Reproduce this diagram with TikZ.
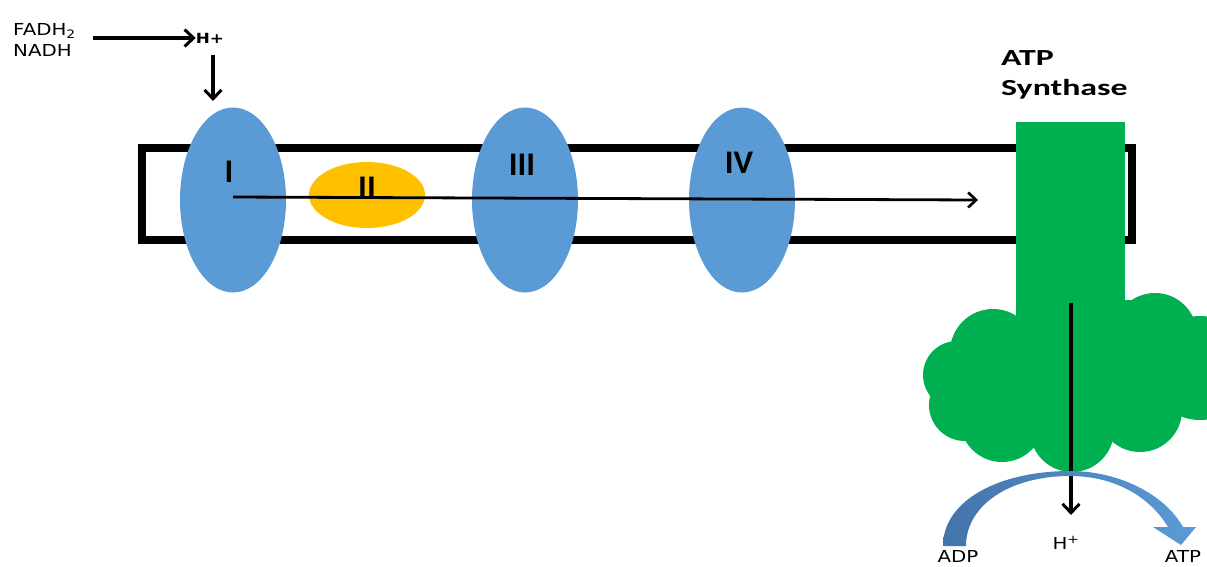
\documentclass[tikz,border=0pt]{standalone}
\usepackage{fontspec}
\usetikzlibrary{arrows.meta,shapes.geometric}
\newfontfamily\calfont{Carlito}
\newfontfamily\calwide[FakeStretch=1.47]{Carlito}
\newfontfamily\labfont[FakeStretch=1.2]{DejaVu Sans}
\definecolor{cplxblue}{HTML}{5B9BD5}
\definecolor{cplxgold}{HTML}{FFC000}
\definecolor{synthgreen}{HTML}{00B050}
\definecolor{arcdark}{HTML}{4374AA}
\tikzset{
  cplx/.style={ellipse, fill=cplxblue, minimum width=106pt, minimum height=185pt, inner sep=0pt},
  numeral/.style={font=\calfont\bfseries\fontsize{33}{33}\selectfont, inner sep=0pt},
  small/.style={font=\labfont\fontsize{16.5}{16.5}\selectfont, inner sep=0pt},
  flow/.style={line width=3.2pt, -{Straight Barb[length=9pt,width=17pt,line width=3pt]}},
  thinflow/.style={line width=2.8pt, -{Straight Barb[length=8pt,width=15pt,line width=2.6pt]}},
  synth/.style={fill=synthgreen}
}
\begin{document}
\begin{tikzpicture}[x=1pt,y=-1pt]
\useasboundingbox (0,0) rectangle (1207,566);

% inner membrane
\draw[line width=8pt] (142,147.5) rectangle (1132,239.5);

% respiratory complexes
\node[cplx] (c1) at (233,200) {};
\node[cplx] (c3) at (525,200) {};
\node[cplx] (c4) at (742,200) {};
\node[ellipse, fill=cplxgold, minimum width=116pt, minimum height=66pt, inner sep=0pt] (c2) at (367,195) {};
\node[numeral] (l1) at (229,172) {I};
\node[numeral] (l2) at (367,188) {II};
\node[numeral] (l3) at (522,165) {III};
\node[numeral] (l4) at (739,163) {IV};

% electron path along the membrane
\coordinate (eend) at (978,200);
\draw[thinflow] ([yshift=3pt]c1.center) -- (eend);

% ATP synthase: stalk through the membrane and head below it
\fill[synth] (1016,122) rectangle (1125,345);
\fill[synth] (993,352) circle (43);
\fill[synth] (957,375) circle (34);
\fill[synth] (965,405) circle (36);
\fill[synth] (1002,420) circle (42);
\fill[synth] (1072,430) circle (42);
\fill[synth] (1140,410) circle (42);
\fill[synth] (1200,368) circle (52);
\fill[synth] (1155,335) circle (42);
\fill[synth] (1065,380) circle (62);
\fill[synth] (990,330) rectangle (1175,425);
\fill[synth] (1110,300) -- (1140,300) -- (1150,340) -- (1110,340) -- cycle;

\node[font=\calwide\bfseries\fontsize{23}{30}\selectfont, align=left, anchor=north west, inner sep=0pt] (synlab) at (1001,50) {ATP\\Synthase};

% proton flow through the synthase
\coordinate (pin) at (1071,303);
\coordinate (pout) at (1071,515);
\draw[flow] (pin) -- (pout);

% ADP to ATP curved arrow
\shade[left color=arcdark, right color=cplxblue]
  (943,546) .. controls (943,500) and (1000,471) .. (1070,471)
  .. controls (1120,471) and (1165,495) .. (1183,527)
  -- (1196,527) -- (1181,545) -- (1153,527) -- (1168,527)
  .. controls (1150,497) and (1115,476) .. (1070,476)
  .. controls (1010,476) and (966,505) .. (966,546) -- cycle;

\node[small] (adp) at (958,556) {ADP};
\node[small] (hout) at (1066,543) {H\textsuperscript{+}};
\node[small] (atp) at (1183,556) {ATP};

% electron donors and proton pumping
\node[small, anchor=west] (fadh) at (13,31) {FADH\textsubscript{2}};
\node[small, anchor=west] (nadh) at (13,50) {NADH};
\node[small, font=\labfont\bfseries\fontsize{14}{14}\selectfont] (hin) at (210,38) {H+};
\draw[flow] (93,38) -- (hin.west);
\coordinate (c1top) at (213,101);
\draw[flow] (213,55) -- (c1top);
\end{tikzpicture}
\end{document}
